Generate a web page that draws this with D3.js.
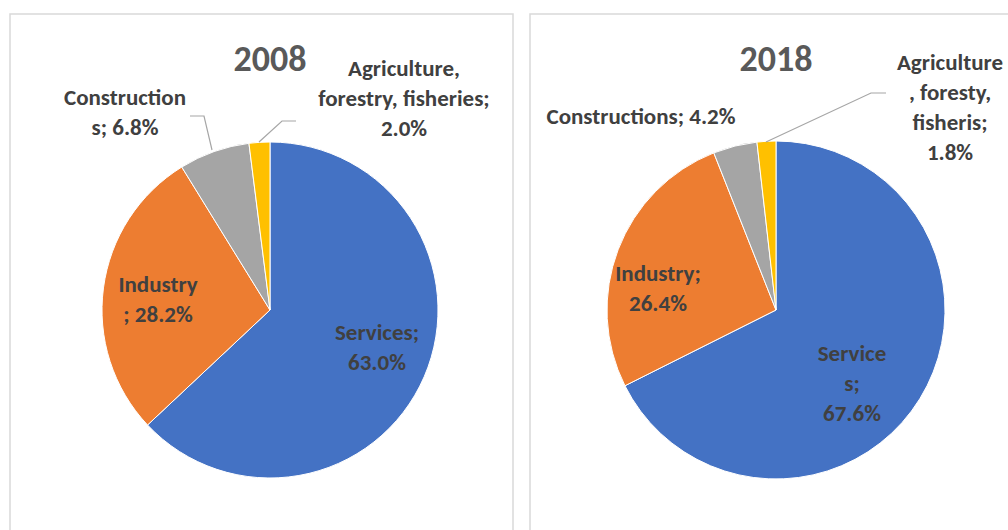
<!DOCTYPE html>
<html><head><meta charset="utf-8">
<script src="https://cdn.jsdelivr.net/npm/d3@7"></script>
<style>body{margin:0;background:#fff}svg{display:block}text{font-family:Carlito,Calibri,Lato,"Open Sans",sans-serif;font-weight:bold}</style>
</head><body>
<svg id="c" width="1008" height="530"></svg>
<script>
const categories = ["Services", "Industry", "Constructions", "Agriculture, forestry, fisheries"];
const years = ["2008", "2018"];
const values2008 = [63.0, 28.2, 6.8, 2.0];
const values2018 = [67.6, 26.4, 4.2, 1.8];
const labels2008 = [["Services;", "63.0%"], ["Industry", "; 28.2%"], ["Construction", "s; 6.8%"], ["Agriculture,", "forestry, fisheries;", "2.0%"]];
const labels2018 = [["Service", "s;", "67.6%"], ["Industry;", "26.4%"], ["Constructions; 4.2%"], ["Agriculture", ", foresty,", "fisheris;", "1.8%"]];
const colors = ["#4472C4", "#ED7D31", "#A5A5A5", "#FFC000"];

// layout (not data)
const panels = [
  {x:10, y:14, w:503, cx:270, cy:310, r:168, values:values2008, labels:labels2008, year:years[0],
   labelPos:[[377,332],[158,284],[125,97],[404,68]],
   leaders:[null,null,[[190,116],[204,116],[212,150]],[[296,121],[282,121],[259,142]]]},
  {x:530, y:14, w:500, cx:776, cy:310, r:169, values:values2018, labels:labels2018, year:years[1],
   labelPos:[[852,353],[658,273],[641,116],[950,62]],
   leaders:[null,null,null,[[886,93],[871,93],[766,142]]]}
];

const svg = d3.select("#c");
const color = d3.scaleOrdinal().domain(categories).range(colors);
const pie = d3.pie().sort(null).value(d => d.v);

panels.forEach(p => {
  svg.append("rect").attr("x", p.x).attr("y", p.y).attr("width", p.w).attr("height", 600)
    .attr("fill", "#fff").attr("stroke", "#d9d9d9").attr("stroke-width", 1.5);
  const data = categories.map((c, i) => ({c, v: p.values[i]}));
  const arc = d3.arc().innerRadius(0).outerRadius(p.r);
  const g = svg.append("g").attr("transform", `translate(${p.cx},${p.cy})`);
  g.selectAll("path").data(pie(data)).join("path")
    .attr("d", arc).attr("fill", d => color(d.data.c))
    .attr("stroke", "#fff").attr("stroke-width", 1);
  svg.append("text").attr("x", p.cx).attr("y", 58).attr("dy", "0.35em")
    .attr("text-anchor", "middle").attr("fill", "#595959").style("font-size", "36px").text(p.year);
  p.leaders.forEach(l => {
    if (!l) return;
    svg.append("path").attr("d", d3.line()(l)).attr("fill", "none")
      .attr("stroke", "#a6a6a6").attr("stroke-width", 1.2);
  });
  p.labels.forEach((lines, i) => {
    const [lx, ly] = p.labelPos[i];
    const t = svg.append("text").attr("text-anchor", "middle").attr("fill", "#404040").style("font-size", "23px");
    lines.forEach((s, j) => t.append("tspan").attr("x", lx).attr("y", ly + j * 30).attr("dy", "0.35em").text(s));
  });
});
</script>
</body></html>
